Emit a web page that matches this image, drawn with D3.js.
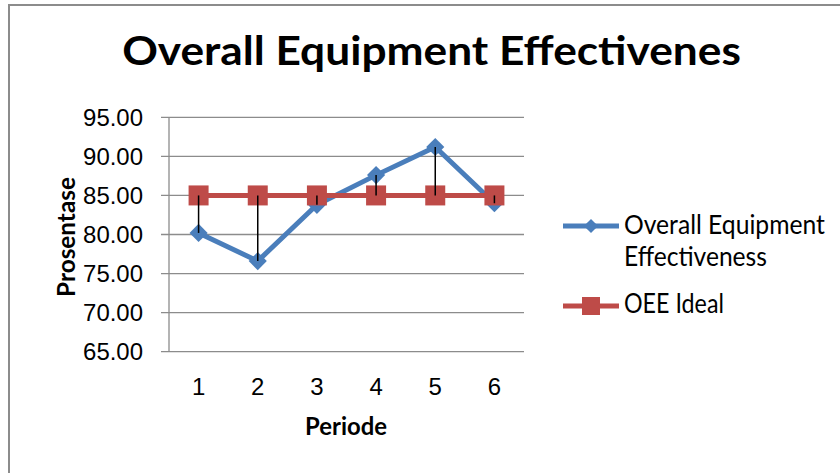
<!DOCTYPE html>
<html><head><meta charset="utf-8">
<script src="https://cdn.jsdelivr.net/npm/d3@7"></script>
<style>body{margin:0;background:#fff}svg{display:block;font-family:Lato,"Open Sans",sans-serif}</style>
</head><body>
<svg id="c" width="840" height="473"></svg>
<script>
const categories = ["1","2","3","4","5","6"];
const oeeValues = [80.2, 76.6, 83.8, 87.6, 91.2, 84.0];
const idealValues = [85, 85, 85, 85, 85, 85];
const yTicks = [65, 70, 75, 80, 85, 90, 95];
const seriesNames = ["Overall Equipment Effectiveness", "OEE Ideal"];
const titleText = "Overall Equipment Effectivenes";

const svg = d3.select("#c");
svg.append("rect").attr("x",9).attr("y",5).attr("width",840).attr("height",480)
  .attr("fill","#fff").attr("stroke","#8c8c8c").attr("stroke-width",2);

function stretch(sel, sx) {
  sel.each(function(){
    const x = +(this.getAttribute("x") || 0);
    d3.select(this).attr("transform", `translate(${x},0) scale(${sx},1) translate(${-x},0)`);
  });
}
function fitWidth(sel, target) {
  const w = sel.node().getComputedTextLength();
  stretch(sel, target / w);
}

const L=169, R=524, T=117.3, B=351.7;
const x = d3.scaleBand().domain(categories).range([L,R]);
const y = d3.scaleLinear().domain([65,95]).range([B,T]);
const cx = d => x(d)+x.bandwidth()/2;

const title = svg.append("text").attr("x",431.5).attr("y",65).attr("text-anchor","middle")
  .attr("font-size",40).attr("font-weight","bold").attr("fill","#000")
  .text(titleText);
fitWidth(title, 619);

svg.append("g").selectAll("line").data(yTicks).join("line")
  .attr("x1",L-8).attr("x2",R).attr("y1",d=>y(d)).attr("y2",d=>y(d))
  .attr("stroke","#8c8c8c").attr("stroke-width",1.3);

const yAxis = svg.append("g").attr("transform",`translate(${L},0)`)
  .call(d3.axisLeft(y).tickValues(yTicks).tickFormat(d3.format(".2f")).tickSize(0).tickPadding(26));
yAxis.select(".domain").remove();
const yt = yAxis.selectAll("text").attr("font-size",23.5).attr("fill","#000").attr("dy","0.35em");
const tickSx = 60 / yt.filter(d=>d===95).node().getComputedTextLength();
stretch(yt, tickSx);
svg.append("line").attr("x1",L).attr("x2",L).attr("y1",T).attr("y2",B).attr("stroke","#8c8c8c").attr("stroke-width",1.3);

const xAxis = svg.append("g").attr("transform",`translate(0,${B})`)
  .call(d3.axisBottom(x).tickSize(0).tickPadding(0));
xAxis.select(".domain").remove();
const xt = xAxis.selectAll("text").attr("font-size",23.5).attr("fill","#000").attr("dy",null).attr("y",43.5);
stretch(xt, tickSx);

const xl = svg.append("text").attr("x",346).attr("y",435).attr("text-anchor","middle")
  .attr("font-size",25.5).attr("font-weight","bold").text("Periode");
fitWidth(xl, 82);
const ylg = svg.append("g").attr("transform","translate(75,237) rotate(-90)");
const yl = ylg.append("text").attr("x",0).attr("y",0).attr("text-anchor","middle")
  .attr("font-size",24.5).attr("font-weight","bold").text("Prosentase");
fitWidth(yl, 120);

const blue="#4a7ebb", red="#be4b48";
const line = d3.line().x((d,i)=>cx(categories[i])).y(d=>y(d));
svg.append("path").attr("d",line(oeeValues)).attr("fill","none").attr("stroke",blue).attr("stroke-width",5).attr("stroke-linejoin","round");
svg.append("path").attr("d",line(idealValues)).attr("fill","none").attr("stroke",red).attr("stroke-width",5);

svg.append("g").selectAll("path").data(oeeValues).join("path")
  .attr("d",d3.symbol().type(d3.symbolSquare).size(165)())
  .attr("transform",(d,i)=>`translate(${cx(categories[i])},${y(d)}) rotate(45)`)
  .attr("fill",blue);
svg.append("g").selectAll("rect").data(idealValues).join("rect")
  .attr("x",(d,i)=>cx(categories[i])-10).attr("y",d=>y(d)-10).attr("width",20).attr("height",20)
  .attr("fill",red);

svg.append("g").selectAll("line").data(oeeValues).join("line")
  .attr("x1",(d,i)=>cx(categories[i])).attr("x2",(d,i)=>cx(categories[i]))
  .attr("y1",d=>y(d)).attr("y2",(d,i)=>y(idealValues[i]))
  .attr("stroke","#000").attr("stroke-width",1.5);

const lg = svg.append("g");
lg.append("line").attr("x1",563).attr("x2",619).attr("y1",226).attr("y2",226).attr("stroke",blue).attr("stroke-width",5);
lg.append("path").attr("d",d3.symbol().type(d3.symbolSquare).size(100)()).attr("transform","translate(591,226) rotate(45)").attr("fill",blue);
const t1 = lg.append("text").attr("x",624).attr("y",234).attr("font-size",26.5).text("Overall Equipment");
fitWidth(t1, 201);
const t2 = lg.append("text").attr("x",624).attr("y",266).attr("font-size",26.5).text("Effectiveness");
fitWidth(t2, 143);
lg.append("line").attr("x1",563).attr("x2",619).attr("y1",306).attr("y2",306).attr("stroke",red).attr("stroke-width",5);
lg.append("rect").attr("x",582).attr("y",297).attr("width",18).attr("height",18).attr("fill",red);
const t3 = lg.append("text").attr("x",624).attr("y",313).attr("font-size",26.5).text(seriesNames[1]);
fitWidth(t3, 100);
</script>
</body></html>
